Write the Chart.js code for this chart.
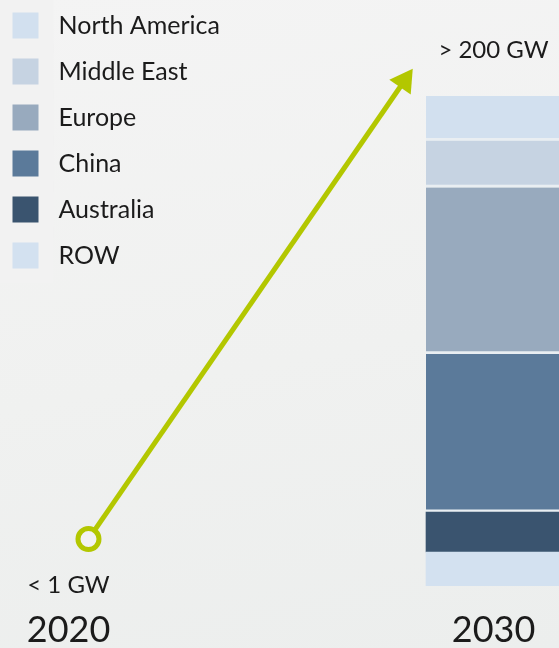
<!DOCTYPE html>
<html>
<head>
<meta charset="utf-8">
<script src="https://cdn.jsdelivr.net/npm/chart.js@4.4.1/dist/chart.umd.min.js"></script>
<style>
html, body { margin: 0; padding: 0; }
body { width: 559px; height: 648px; overflow: hidden; background: linear-gradient(170deg, #f4f4f4 0%, #f0f1f0 55%, #eceeed 100%); }
#caja { position: relative; width: 559px; height: 648px; }
</style>
</head>
<body>
<div id="caja"><canvas id="grafico"></canvas></div>
<script>
// stacked from the bottom up
const regiones = ["ROW", "Australia", "China", "Europe", "Middle East", "North America"];
const capacidad2030 = [14.5, 17, 67.5, 71, 20, 19];
const colores = ["#d3e1f0", "#3a546f", "#5b7a9a", "#98aabe", "#c6d3e2", "#d2e0ef"];

const anios = [2020, 2030];
const etiquetasValor = ["< 1 GW", "> 200 GW"];

// growth arrow
const flechaAnios = [2020.47, 2027.9];
const flechaValores = [1, 200];

const verde = "#b3c700";
const fondo = "#f2f2f2";
const texto = "#1b1b1b";

Chart.defaults.font.family = "Lato";
Chart.defaults.color = texto;

const etiquetas = {
  id: "etiquetas",
  afterDatasetsDraw(chart) {
    const ctx = chart.ctx;
    const x = chart.scales.x;
    const y = chart.scales.y;
    const total = capacidad2030.reduce((a, b) => a + b, 0);
    ctx.save();
    ctx.font = "24px Lato";
    ctx.fillStyle = texto;
    ctx.textAlign = "center";
    ctx.textBaseline = "middle";
    ctx.fillText(etiquetasValor[0], x.getPixelForValue(anios[0]), y.getPixelForValue(0) - 1);
    ctx.fillText(etiquetasValor[1], x.getPixelForValue(anios[1]), y.getPixelForValue(total) - 46);
    ctx.restore();
  }
};

const barras = regiones.map((r, i) => ({
  type: "bar",
  label: r,
  data: [{ x: anios[1], y: capacidad2030[i] }],
  backgroundColor: colores[i],
  borderColor: "#e9eef2",
  borderWidth: i >= 2 ? { top: 0, right: 0, left: 0, bottom: 3 } : 0,
  borderSkipped: false,
  barThickness: 135,
  yAxisID: "y",
  order: 2
}));

const flecha = {
  type: "line",
  label: "Growth",
  data: flechaAnios.map((a, i) => ({ x: a, y: flechaValores[i] })),
  yAxisID: "yFlecha",
  borderColor: verde,
  borderWidth: 5,
  tension: 0,
  fill: false,
  pointStyle: ["circle", "triangle"],
  pointRadius: [10.5, 15],
  pointRotation: [0, 34.5],
  pointBorderWidth: [5, 0],
  pointBorderColor: verde,
  pointBackgroundColor: [fondo, verde],
  clip: false,
  order: 1
};

const ctx = document.getElementById("grafico");

new Chart(ctx, {
  data: { datasets: [flecha, ...barras] },
  options: {
    animation: false,
    responsive: true,
    maintainAspectRatio: false,
    layout: { padding: 0, autoPadding: false },
    scales: {
      x: {
        type: "linear",
        offset: false,
        min: 2018.388,
        max: 2031.541,
        stacked: true,
        afterBuildTicks: s => { s.ticks = anios.map(v => ({ value: v })); },
        ticks: {
          padding: 0,
          font: { size: 36, lineHeight: 1 },
          color: texto,
          callback: v => String(v)
        },
        grid: { display: true, offset: false, color: "transparent", drawTicks: true, tickLength: 26 },
        border: { display: false }
      },
      y: { display: false, stacked: true, min: 0, max: 250 },
      yFlecha: { display: false, min: -19.4, max: 235.2 }
    },
    plugins: {
      tooltip: { enabled: false },
      legend: {
        position: "chartArea",
        align: "start",
        reverse: true,
        labels: {
          font: { size: 25 },
          color: texto,
          boxWidth: 41,
          boxHeight: 41,
          padding: 5,
          filter: (item, data) => data.datasets[item.datasetIndex].type === "bar",
          generateLabels: chart => {
            const items = Chart.defaults.plugins.legend.labels.generateLabels(chart);
            items.forEach(it => {
              it.lineWidth = 15;
              it.strokeStyle = fondo;
            });
            return items;
          }
        }
      }
    }
  },
  plugins: [etiquetas]
});
</script>
</body>
</html>
